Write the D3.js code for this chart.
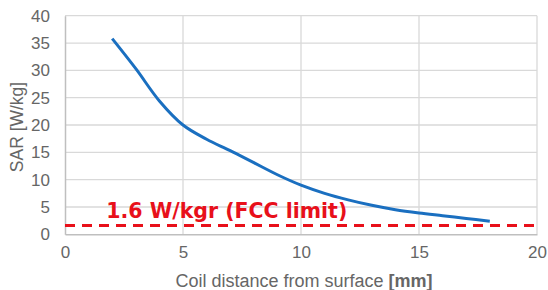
<!DOCTYPE html>
<html><head><meta charset="utf-8">
<script src="https://cdn.jsdelivr.net/npm/d3@7"></script>
<style>body{margin:0;background:#fff}svg{display:block}</style>
</head><body>
<svg id="c" width="548" height="290"></svg>
<script>
const distances = [2,3,4,5,6,7,8,9,10,11,12,13,14,15,16,17,18];
const sarValues = [35.8,30.3,24.4,20.0,17.4,15.3,13.1,10.9,9.0,7.5,6.3,5.3,4.5,3.9,3.4,2.9,2.4];
const fccLimit = 1.6;
const fccLabel = "1.6 W/kgr (FCC limit)";
const xTicks = [0,5,10,15,20];
const yTicks = [0,5,10,15,20,25,30,35,40];

const svg = d3.select("#c");
const x = d3.scaleLinear().domain([0,20]).range([65,537]);
const y = d3.scaleLinear().domain([0,40]).range([234.3,15.7]);
const font = "'Liberation Sans', Arial, sans-serif";
const grey = "#666666";

// gridlines
svg.append("g").selectAll("line").data(yTicks.filter(d=>d>0)).join("line")
  .attr("x1",x(0)).attr("x2",x(20)).attr("y1",d=>y(d)).attr("y2",d=>y(d))
  .attr("stroke","#d9d9d9").attr("stroke-width",1.3);
svg.append("g").selectAll("line").data(xTicks.filter(d=>d>0)).join("line")
  .attr("y1",y(0)).attr("y2",y(40)).attr("x1",d=>x(d)).attr("x2",d=>x(d))
  .attr("stroke","#d9d9d9").attr("stroke-width",1.3);

// axes
const xAxis = svg.append("g").attr("transform",`translate(0,${y(0)})`)
  .call(d3.axisBottom(x).tickValues(xTicks).tickSize(0).tickPadding(12));
const yAxis = svg.append("g").attr("transform",`translate(${x(0)},0)`)
  .call(d3.axisLeft(y).tickValues(yTicks).tickSize(0).tickPadding(15));
[xAxis,yAxis].forEach(a=>{
  a.select(".domain").attr("stroke","#bfbfbf").attr("stroke-width",1.5);
  a.selectAll("text").attr("fill",grey).attr("font-family",font).attr("font-size",17);
});

// FCC limit line
svg.append("line").attr("x1",x(0)).attr("x2",x(20))
  .attr("y1",y(fccLimit)).attr("y2",y(fccLimit))
  .attr("stroke","#e8101a").attr("stroke-width",3).attr("stroke-dasharray","10,7");
const lab = svg.append("text").attr("x",x(1.75)).attr("y",y(fccLimit)-8)
  .attr("fill","#e8101a").attr("font-family","'DejaVu Sans', sans-serif").attr("font-weight","bold")
  .attr("font-size",18).text(fccLabel);
const w = lab.node().getComputedTextLength();
lab.attr("font-size", 18*241/w);

// curve
const line = d3.line().x((d,i)=>x(distances[i])).y(d=>y(d)).curve(d3.curveCatmullRom.alpha(0.5));
svg.append("path").datum(sarValues).attr("d",line)
  .attr("fill","none").attr("stroke","#1a6fc0").attr("stroke-width",3);

// axis titles
const xt = svg.append("text").attr("x",304).attr("y",287).attr("text-anchor","middle")
  .attr("fill",grey).attr("font-family",font).attr("font-size",18);
xt.append("tspan").text("Coil distance from surface ");
xt.append("tspan").attr("font-weight","bold").text("[mm]");
svg.append("text").attr("transform","translate(23,127) rotate(-90)").attr("text-anchor","middle")
  .attr("fill",grey).attr("font-family",font).attr("font-size",17.5).text("SAR [W/kg]");
</script>
</body></html>
